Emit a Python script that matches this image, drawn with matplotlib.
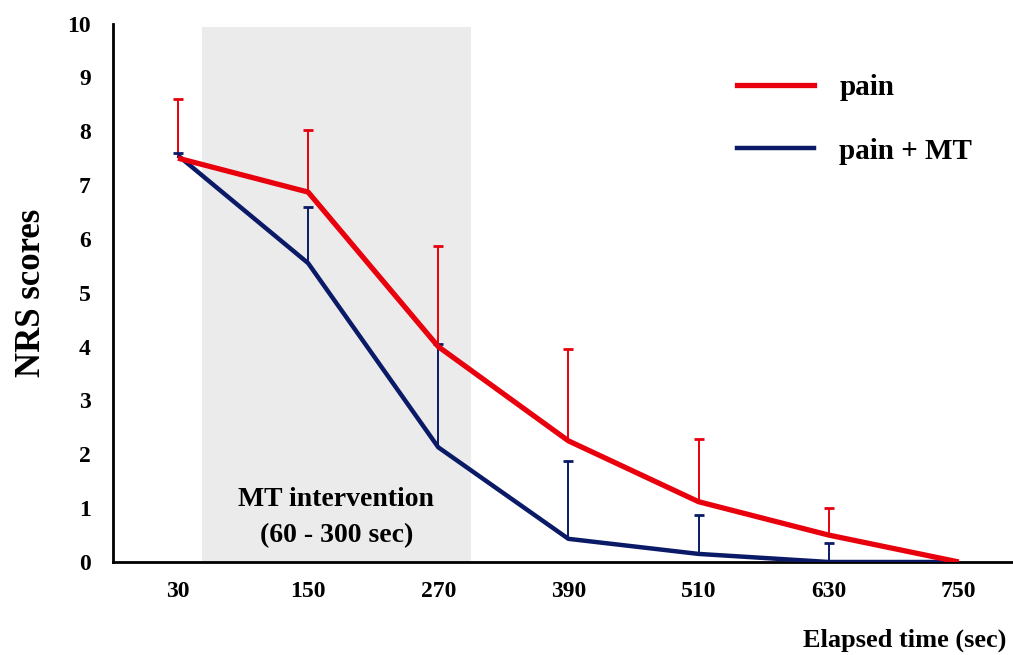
import numpy as np
import matplotlib
matplotlib.use('Agg')
import matplotlib.pyplot as plt
from matplotlib.lines import Line2D

# elapsed time points (sec)
times = [30, 150, 270, 390, 510, 630, 750]

pain_mean = [7.5, 6.87, 4.0, 2.25, 1.12, 0.5, 0.0]
pain_upper = [8.6, 8.03, 5.86, 3.95, 2.28, 1.0, 0.0]

mt_mean = [7.55, 5.55, 2.13, 0.43, 0.15, 0.0, 0.0]
mt_upper = [7.6, 6.6, 4.05, 1.87, 0.87, 0.35, 0.0]

shade_start = 52
shade_end = 300

red = '#e8000d'
navy = '#0b1a66'

plt.rcParams['font.family'] = ['Liberation Serif', 'DejaVu Serif']
plt.rcParams['font.weight'] = 'bold'

fig = plt.figure(figsize=(10.13, 6.55), dpi=100)
ax = fig.add_axes([0.1115, 0.142, 0.8885, 0.822])

ax.axvspan(shade_start, shade_end, ymax=0.993, color='#ebebeb', zorder=0, lw=0)

# error bars, upper side only
for mean, upper, c in [(pain_mean, pain_upper, red), (mt_mean, mt_upper, navy)]:
    t = np.array(times)
    m = np.array(mean)
    u = np.array(upper)
    keep = u > m
    ax.vlines(t[keep], m[keep], u[keep], color=c, lw=1.4, zorder=3)
    ax.scatter(t[keep], u[keep], marker='_', s=60, color=c, linewidths=2, zorder=3)

ax.plot(times, mt_mean, color=navy, lw=3.2, zorder=4, solid_capstyle='butt')
ax.plot(times, pain_mean, color=red, lw=3.8, zorder=5, solid_capstyle='butt')

ax.set_xlim(-30, 800)
ax.set_ylim(0, 10)
ax.set_xticks(times)
ax.set_yticks(range(0, 11))
ax.tick_params(length=0, labelsize=17)
ax.tick_params(axis='x', pad=14)
ax.tick_params(axis='y', pad=16)
for lab in ax.get_xticklabels() + ax.get_yticklabels():
    lab.set_fontweight('bold')

ax.spines['top'].set_visible(False)
ax.spines['right'].set_visible(False)
ax.spines['left'].set_linewidth(2)
ax.spines['bottom'].set_linewidth(2)

ax.set_ylabel('NRS scores', fontsize=25, fontweight='bold', labelpad=14)
fig.text(0.993, 0.023, 'Elapsed time (sec)', ha='right', va='center',
         fontsize=19, fontweight='bold')

ax.text((shade_start + shade_end) / 2, 0.82, 'MT intervention\n(60 - 300 sec)',
        ha='center', va='center', fontsize=20, fontweight='bold', linespacing=1.6)

handles = [Line2D([], [], color=red, lw=3.8), Line2D([], [], color=navy, lw=3.2)]
ax.legend(handles, ['pain', 'pain + MT'], loc='upper left',
          bbox_to_anchor=(0.664, 0.955), frameon=False, handlelength=2.65,
          handletextpad=0.86, labelspacing=1.25,
          prop={'size': 21, 'weight': 'bold'})

fig.savefig('out.png', dpi=100)
